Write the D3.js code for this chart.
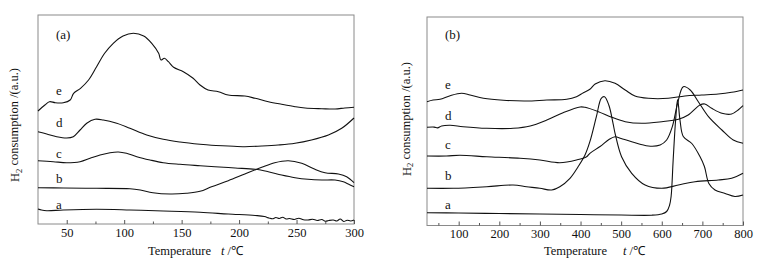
<!DOCTYPE html>
<html>
<head>
<meta charset="utf-8">
<script src="https://cdn.jsdelivr.net/npm/d3@7"></script>
<style>
  html, body { margin: 0; padding: 0; background: #fff; }
  svg { display: block; }
  text { font-family: "Liberation Serif", "Times New Roman", serif; fill: #111; }
</style>
</head>
<body>
<svg id="chart" width="767" height="266"></svg>
<script>
// ---------- Data (temperature, H2 consumption a.u.) ----------
// Panel (a)
const aTicks = [50, 100, 150, 200, 250, 300];
const aMinorTicks = [75, 125, 175, 225, 275];
const aCurveA = [[25,15],[28,14],[32.6,13.3],[47,14],[76,14.7],[105,14],[134,13],[166,11.7],[190.6,10],[214,8.5],[222,7.5],[226,6],[229,5.2],[232,6.5],[235,5.5],[238,6.8],[241,5],[244,5.5],[248,4.5],[252,5.8],[256,4.2],[260,4],[264,4.8],[268,3.5],[272,4.5],[275,2.8],[278,3.5],[282,4],[285,3],[288,5],[291,2.5],[294,3.8],[297,3],[300,4]];
const aCurveB = [[25,36.3],[47,36],[76,35.7],[105,35.3],[114,34],[125,31.3],[140,30],[154,30.7],[166,32.7],[176,37.3],[190.6,43.3],[205,50],[219.7,56.7],[231,61.3],[242.8,63.3],[254.5,60.7],[266,54.7],[274.8,51.3],[286.4,50],[293.6,47.3],[300,41.3]];
const aCurveC = [[25,63.3],[38.3,62.3],[50,61.3],[61.6,62.3],[70.3,65.7],[79,69],[87.7,71.3],[95,72],[102,70.7],[111,67.3],[122.5,64],[134,61.3],[148.6,59.7],[166,58.3],[179,57.3],[196.5,56],[214,54.7],[225.4,52.3],[237,49],[248.7,46.3],[260,44.7],[272,44],[283.5,44],[290.7,42.3],[295,40],[300,37.3]];
const aCurveD = [[25,92.3],[32.6,90],[41.3,87.3],[50,86],[55.7,87.3],[61.6,94],[67.4,100.7],[74.6,104.7],[81.8,104],[93.5,100.7],[105,95.7],[119.6,89],[134,84.7],[148.6,82],[166,79.7],[176,78.7],[190.6,78],[205,77.3],[219.7,78],[234,79],[248.7,80.7],[263,84],[277.7,89],[289.3,95.7],[300,106]];
const aCurveE = [[25,113],[31,119],[35,122.3],[40,121.3],[47,121.3],[53,124],[56,130.7],[62,135.7],[69,144],[76,157.3],[83,170.7],[90.5,180.7],[99,188],[108,190.7],[117,188],[124,180.7],[130,170.7],[132,164],[135,165.7],[138.5,162.3],[143,156.7],[151.5,152.3],[160,145.7],[166,139],[173,134],[182,132.3],[190.5,129],[205,128],[214,125.7],[225.5,122.3],[237,119.7],[248.7,117.3],[257.4,116],[272,115.3],[283.5,115],[292,116],[300,116.7]];

// Panel (b)
const bTicks = [100, 200, 300, 400, 500, 600, 700, 800];
const bMinorTicks = [50, 150, 250, 350, 450, 550, 650, 750];
const bCurveA = [[22,12.8],[100,12.5],[200,12],[300,11.5],[400,11],[500,10.5],[575,10.3],[600,11.5],[612,14],[619,20],[623,29],[628,65],[634,105],[639,126],[645,105],[653,89],[674,82],[694,69],[705,59],[716,42],[731,35.5],[756,32],[780,29],[800,30.5]];
const bCurveB = [[22,37.2],[87,37.2],[169,38.8],[234,40.5],[267,38.8],[300,37.2],[329,35.5],[349,38.8],[374,47.2],[394,58.8],[411,70.5],[423,83.8],[439,108.8],[451,127.2],[459,128.8],[470,120],[480,102.2],[485,92.2],[501,68.8],[526,52.2],[559,40.5],[600,37.2],[641,40.5],[682,43.8],[739,45.5],[772,47.2],[800,52.2]];
const bCurveC = [[22,69.5],[70,69.5],[103,70.2],[169,68.8],[251,67.2],[300,65.5],[349,62.8],[390,65.5],[415,68.8],[423,72.2],[448,79],[470,86],[485,88.8],[500,87],[526,83.8],[567,79.5],[596,80.5],[612,85.5],[626,98.8],[639,122.2],[653,138.8],[670,135.5],[690,123.8],[715,108.8],[748,95.5],[776,85.5],[800,82.2]];
const bCurveD = [[22,98.2],[40,98.4],[48,97.6],[58,99.5],[79,100.2],[111,98.8],[169,97.2],[234,97.2],[276,99.5],[317,105.5],[357,112.8],[399,118.5],[411,118.2],[444,113.8],[477,108.2],[510,103.8],[551,102.2],[600,103.8],[641,106.2],[665,110.5],[694,120.5],[706,121.5],[723,117.2],[748,112.2],[772,111.5],[788,115.5],[800,119.8]];
const bCurveE = [[22,123.8],[37,125.5],[54,126.2],[79,129.8],[107,132.2],[128,130.5],[161,127.2],[210,125.2],[267,124.5],[317,125.5],[366,126.2],[390,128.8],[407,132.8],[423,136.2],[436,141.5],[460,144.8],[485,142.2],[510,135.5],[534,129.5],[567,127.2],[616,127.2],[657,129.5],[698,130.5],[739,131.5],[772,133.2],[800,135.5]];

const curveNames = ["a", "b", "c", "d", "e"];
const panelLabels = ["(a)", "(b)"];
const xTitle = "Temperature";
const yTitle = " consumption /(a.u.)";

// ---------- Layout ----------
const panels = [
  { label: panelLabels[0], left: 38, right: 354, top: 15, bottom: 224,
    xDomain: [25, 300], yDomain: [0, 209], ticks: aTicks, minor: aMinorTicks,
    curves: [aCurveA, aCurveB, aCurveC, aCurveD, aCurveE],
    labelPos: [[56,209],[56,183.3],[56,158.3],[56,127.3],[56,95]],
    labelXY: [56, 38.5], titleX: 148, titleGap: 10, yTitleX: 15, yTitleY: 125 },
  { label: panelLabels[1], left: 427, right: 743, top: 17, bottom: 225.5,
    xDomain: [22, 800], yDomain: [0, 208.5], ticks: bTicks, minor: bMinorTicks,
    curves: [bCurveA, bCurveB, bCurveC, bCurveD, bCurveE],
    labelPos: [[445,209.3],[445,180],[445,149.3],[445,120],[445,89.3]],
    labelXY: [445, 38.5], titleX: 544, titleGap: 16, yTitleX: 406.5, yTitleY: 119 }
];

const svg = d3.select("#chart");

panels.forEach(p => {
  const x = d3.scaleLinear().domain(p.xDomain).range([p.left, p.right]);
  const y = d3.scaleLinear().domain(p.yDomain).range([p.bottom, p.top]);
  const g = svg.append("g");

  // frame
  g.append("rect")
    .attr("x", p.left).attr("y", p.top)
    .attr("width", p.right - p.left).attr("height", p.bottom - p.top)
    .attr("fill", "none").attr("stroke", "#8a8a8a").attr("stroke-width", 1);

  // major ticks (inward) with labels
  const ax = g.append("g")
    .attr("transform", `translate(0,${p.bottom})`)
    .call(d3.axisBottom(x).tickValues(p.ticks).tickSize(-4).tickPadding(4).tickFormat(d3.format("d")));
  ax.select(".domain").remove();
  ax.selectAll(".tick line").attr("stroke", "#555");
  ax.selectAll(".tick text")
    .style("font-family", '"Liberation Serif", "Times New Roman", serif')
    .style("font-size", "12.5px").attr("fill", "#111");

  // minor ticks
  const mx = g.append("g")
    .attr("transform", `translate(0,${p.bottom})`)
    .call(d3.axisBottom(x).tickValues(p.minor).tickSize(-2.5).tickFormat(""));
  mx.select(".domain").remove();
  mx.selectAll(".tick line").attr("stroke", "#555");

  // curves
  const line = d3.line()
    .x(d => x(d[0])).y(d => y(d[1]))
    .curve(d3.curveCatmullRom.alpha(0.5));
  p.curves.forEach(c => {
    g.append("path").datum(c)
      .attr("d", line)
      .attr("fill", "none").attr("stroke", "#111")
      .attr("stroke-width", 1.1).attr("stroke-linejoin", "round");
  });

  // curve labels
  curveNames.forEach((n, i) => {
    g.append("text").attr("x", p.labelPos[i][0]).attr("y", p.labelPos[i][1])
      .style("font-size", "13px").text(n);
  });

  // panel label
  g.append("text").attr("x", p.labelXY[0]).attr("y", p.labelXY[1])
    .style("font-size", "13px").text(p.label);

  // x title
  const xt = g.append("text").attr("x", p.titleX).attr("y", 255)
    .style("font-size", "12.5px");
  xt.append("tspan").text(xTitle);
  xt.append("tspan").attr("dx", p.titleGap).style("font-style", "italic").text("t");
  xt.append("tspan").text(" /\u2103");

  // y title
  const yt = g.append("text")
    .attr("transform", `translate(${p.yTitleX},${p.yTitleY}) rotate(-90)`)
    .attr("text-anchor", "middle").attr("dy", "0.35em")
    .style("font-size", "12.5px");
  yt.append("tspan").text("H");
  yt.append("tspan").attr("dy", "0.3em").style("font-size", "8.5px").text("2");
  yt.append("tspan").attr("dy", "-0.3em").text(yTitle);
});
</script>
</body>
</html>
